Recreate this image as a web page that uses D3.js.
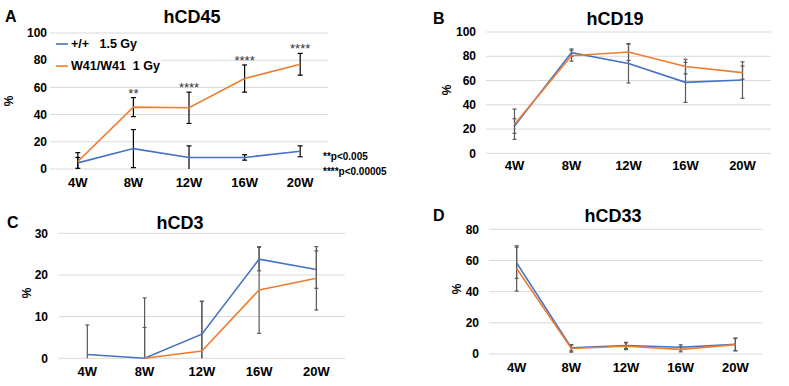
<!DOCTYPE html>
<html>
<head>
<meta charset="utf-8">
<script src="https://cdn.jsdelivr.net/npm/d3@7"></script>
<style>
  body { margin: 0; background: #fff; }
  text { font-family: "Liberation Sans", Arial, sans-serif; }
</style>
</head>
<body>
<script>
const width = 789;
const height = 386;

// data
const weeks = ["4W", "8W", "12W", "16W", "20W"];

const cd45Wt = [4.5, 15, 8.5, 8.5, 13];
const cd45WtErr = [4, 14, 8.5, 2, 4];
const cd45W41 = [5.5, 45.5, 45, 66.5, 77];
const cd45W41Err = [6.5, 7, 11.5, 10, 8];
const cd45Sig = ["", "**", "****", "****", "****"];

const cd19Wt = [22.5, 83, 74, 58.5, 60.4];
const cd19WtErr = [6, 3, 16, 16.5, 15];
const cd19W41 = [24, 80.5, 83.5, 71.5, 66.5];
const cd19W41Err = [12.5, 4.5, 7, 6, 5.5];

const cd3Wt = [0.9, 0, 5.8, 23.8, 21.3];
const cd3WtErr = [7.1, 14.5, 7.9, 2.8, 4.5];
const cd3W41 = [null, 0, 1.75, 16.4, 19.2];
const cd3W41Err = [0, 7.4, 11.9, 10.4, 7.6];

const cd33Wt = [58.5, 4, 5.5, 4.3, 6.2];
const cd33WtErr = [10, 2, 2, 1.6, 4];
const cd33W41 = [54.9, 3.5, 5, 3, 6];
const cd33W41Err = [14.5, 2.3, 2.2, 1.6, 4];

const ticks100 = [0, 20, 40, 60, 80, 100];
const ticks30 = [0, 10, 20, 30];
const ticks80 = [0, 20, 40, 60, 80];

const legendLabels = ["+/+   1.5 Gy", "W41/W41  1 Gy"];
const pLabels = ["**p<0.005", "****p<0.00005"];

const blue = "#4472C4";
const orange = "#ED7D31";

let svg = d3.select("body").append("svg")
    .attr("width", width)
    .attr("height", height);

function drawPanel(p) {
    let x = d3.scaleBand().domain(weeks).range([p.left, p.right]);
    let y = d3.scaleLinear().domain([0, p.ticks[p.ticks.length - 1]]).range([p.y0, p.yTop]);
    let g = svg.append("g");

    // gridlines
    g.selectAll(".grid").data(p.ticks).enter().append("line")
        .attr("x1", p.left).attr("x2", p.right)
        .attr("y1", d => y(d)).attr("y2", d => y(d))
        .attr("stroke", "#d9d9d9").attr("stroke-width", 1);

    // y tick labels
    g.selectAll(".ytick").data(p.ticks).enter().append("text")
        .attr("x", p.tickX).attr("y", d => y(d)).attr("dy", "0.35em")
        .attr("text-anchor", "end")
        .style("font-size", "12px").style("font-weight", "bold")
        .text(d => d);

    // x labels
    g.selectAll(".xtick").data(weeks).enter().append("text")
        .attr("x", d => x(d) + x.bandwidth() / 2).attr("y", p.labelY)
        .attr("text-anchor", "middle")
        .style("font-size", "13px").style("font-weight", "bold")
        .text(d => d);

    // titles
    g.append("text").attr("x", p.titleX).attr("y", p.titleY)
        .attr("text-anchor", "middle")
        .style("font-size", "18px").style("font-weight", "bold")
        .text(p.title);
    g.append("text").attr("x", p.letterX).attr("y", p.titleY - 1)
        .style("font-size", "16px").style("font-weight", "bold")
        .text(p.letter);
    g.append("text")
        .attr("transform", `translate(${p.pctX},${p.pctY}) rotate(-90)`)
        .attr("text-anchor", "middle")
        .style("font-size", "12px").style("font-weight", "bold")
        .text("%");

    const series = [
        { vals: p.wt, err: p.wtErr, color: blue },
        { vals: p.w41, err: p.w41Err, color: orange }
    ];

    // error bars
    series.forEach(s => {
        let pts = weeks.map((w, i) => ({ w: w, v: s.vals[i], e: s.err[i] }))
            .filter(d => d.v !== null && d.e > 0);
        let eb = g.append("g").attr("stroke", p.errColor).attr("stroke-width", 1.2);
        pts.forEach(d => {
            let cx = x(d.w) + x.bandwidth() / 2;
            let hi = y(d.v + d.e), lo = y(Math.max(0, d.v - d.e));
            eb.append("line").attr("x1", cx).attr("x2", cx).attr("y1", hi).attr("y2", lo);
            eb.append("line").attr("x1", cx - p.cap).attr("x2", cx + p.cap).attr("y1", hi).attr("y2", hi);
            if (d.v - d.e > 0) {
                eb.append("line").attr("x1", cx - p.cap).attr("x2", cx + p.cap).attr("y1", lo).attr("y2", lo);
            }
        });
    });

    // lines
    series.forEach(s => {
        let line = d3.line()
            .defined(d => d.v !== null)
            .x(d => x(d.w) + x.bandwidth() / 2)
            .y(d => y(d.v));
        g.append("path")
            .datum(weeks.map((w, i) => ({ w: w, v: s.vals[i] })))
            .attr("d", line)
            .attr("fill", "none")
            .attr("stroke", s.color)
            .attr("stroke-width", 1.6);
    });

    return { x: x, y: y, g: g };
}

let a = drawPanel({
    left: 50, right: 328, y0: 169, yTop: 33, ticks: ticks100, tickX: 47, labelY: 187,
    title: "hCD45", titleX: 192, titleY: 23, letter: "A", letterX: 5, pctX: 13, pctY: 101,
    wt: cd45Wt, wtErr: cd45WtErr, w41: cd45W41, w41Err: cd45W41Err, errColor: "#000", cap: 2.5
});
drawPanel({
    left: 486, right: 771, y0: 153.3, yTop: 32, ticks: ticks100, tickX: 476, labelY: 170,
    title: "hCD19", titleX: 615, titleY: 25, letter: "B", letterX: 433, pctX: 451, pctY: 90,
    wt: cd19Wt, wtErr: cd19WtErr, w41: cd19W41, w41Err: cd19W41Err, errColor: "#595959", cap: 2
});
drawPanel({
    left: 58.7, right: 345, y0: 358.3, yTop: 233.3, ticks: ticks30, tickX: 48, labelY: 376,
    title: "hCD3", titleX: 180, titleY: 229, letter: "C", letterX: 7, pctX: 31, pctY: 293,
    wt: cd3Wt, wtErr: cd3WtErr, w41: cd3W41, w41Err: cd3W41Err, errColor: "#595959", cap: 2
});
drawPanel({
    left: 489.3, right: 762.7, y0: 354, yTop: 229.3, ticks: ticks80, tickX: 479, labelY: 372,
    title: "hCD33", titleX: 613, titleY: 222, letter: "D", letterX: 433, pctX: 461, pctY: 289,
    wt: cd33Wt, wtErr: cd33WtErr, w41: cd33W41, w41Err: cd33W41Err, errColor: "#595959", cap: 2
});

// significance marks in panel A
a.g.selectAll(".sig").data(weeks).enter().append("text")
    .attr("x", d => a.x(d) + a.x.bandwidth() / 2)
    .attr("y", (d, i) => a.y(cd45W41[i] + cd45W41Err[i]))
    .attr("text-anchor", "middle")
    .style("font-size", "13px").attr("fill", "#333")
    .text((d, i) => cd45Sig[i]);

// legend in panel A
let legend = a.g.append("g");
legend.append("rect").attr("x", 51).attr("y", 35).attr("width", 110).attr("height", 40).attr("fill", "#fff");
[blue, orange].forEach((c, i) => {
    let ly = 44 + i * 22;
    legend.append("line").attr("x1", 56).attr("x2", 68).attr("y1", ly).attr("y2", ly)
        .attr("stroke", c).attr("stroke-width", 1.6);
    legend.append("text").attr("x", 71).attr("y", ly).attr("dy", "0.35em")
        .attr("xml:space", "preserve")
        .style("font-size", "12.5px").style("font-weight", "bold")
        .style("white-space", "pre")
        .text(legendLabels[i]);
});

// p-value notes
pLabels.forEach((t, i) => {
    svg.append("text").attr("x", 323).attr("y", 160 + i * 15)
        .style("font-size", "10px").style("font-weight", "bold")
        .text(t);
});
</script>
</body>
</html>
